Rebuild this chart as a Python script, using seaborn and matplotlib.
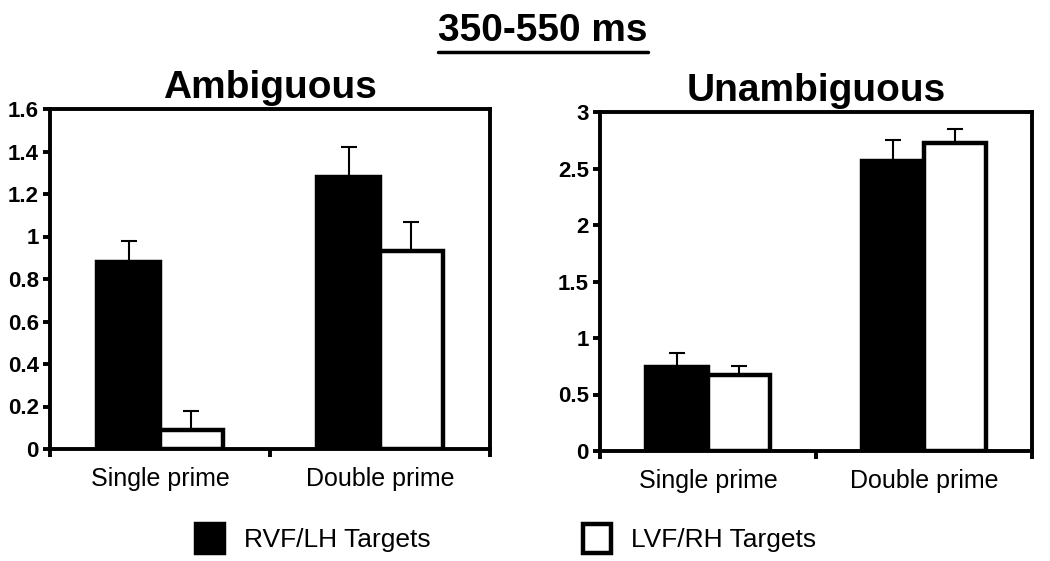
import pandas as pd
import matplotlib.pyplot as plt
import seaborn as sns
from matplotlib.lines import Line2D

sns.set_style('ticks')
plt.rcParams['font.family'] = ['Liberation Sans', 'DejaVu Sans']
plt.rcParams.update({'text.color': 'black', 'axes.edgecolor': 'black',
                     'xtick.color': 'black', 'ytick.color': 'black'})

#Values
conditions = ['Single prime', 'Double prime']
targets = ['RVF/LH Targets', 'LVF/RH Targets']

amb_rvf = [0.88, 1.28]
amb_lvf = [0.09, 0.93]
amb_rvf_err = [0.10, 0.14]
amb_lvf_err = [0.09, 0.14]

unamb_rvf = [0.74, 2.57]
unamb_lvf = [0.67, 2.73]
unamb_rvf_err = [0.13, 0.18]
unamb_lvf_err = [0.08, 0.12]

amb_ticks = [0, 0.2, 0.4, 0.6, 0.8, 1.0, 1.2, 1.4, 1.6]
unamb_ticks = [0, 0.5, 1.0, 1.5, 2.0, 2.5, 3.0]


def make_df(rvf, lvf):
    return pd.DataFrame({
        'condition': conditions * 2,
        'target': [targets[0]] * 2 + [targets[1]] * 2,
        'value': rvf + lvf,
    })


def draw_panel(ax, df, errs, title, ticks):
    sns.barplot(data=df, x='condition', y='value', hue='target', order=conditions,
                hue_order=targets, palette=['black', 'white'], edgecolor='black',
                linewidth=3.2, width=0.57, errorbar=None, ax=ax)
    #error bars (upper only) on each bar centre
    for patch, err in zip(ax.patches, errs):
        xc = patch.get_x() + patch.get_width() / 2
        top = patch.get_height()
        ax.errorbar(xc, top, yerr=[[0], [err]], fmt='none', ecolor='black',
                    elinewidth=1.5, capsize=6, capthick=1.5, zorder=1)
    ax.set_ylim(0, ticks[-1])
    ax.set_xlim(-0.5, 1.5)
    ax.set_yticks(ticks)
    ax.set_yticklabels([f'{t:g}' for t in ticks], fontsize=16, fontweight='bold')
    ax.set_xticks([0, 1])
    ax.set_xticklabels(conditions, fontsize=18)
    ax.set_xticks([-0.5, 0.5, 1.5], minor=True)
    ax.tick_params(axis='x', which='major', length=0, pad=13)
    ax.tick_params(axis='x', which='minor', length=6, width=2.8, direction='out')
    ax.tick_params(axis='y', length=5, width=2.8, direction='out', pad=3)
    ax.set_xlabel('')
    ax.set_ylabel('')
    for s in ax.spines.values():
        s.set_linewidth(2.8)
        s.set_visible(True)
    ax.set_title(title, fontsize=28, fontweight='bold', pad=8)


fig = plt.figure(figsize=(10.5, 5.61), dpi=100)
ax1 = fig.add_axes([50 / 1050, 1 - 449 / 561, 440 / 1050, 340 / 561])
ax2 = fig.add_axes([600 / 1050, 1 - 451 / 561, 432 / 1050, 339 / 561])

draw_panel(ax1, make_df(amb_rvf, amb_lvf), amb_rvf_err + amb_lvf_err, 'Ambiguous', amb_ticks)
draw_panel(ax2, make_df(unamb_rvf, unamb_lvf), unamb_rvf_err + unamb_lvf_err, 'Unambiguous', unamb_ticks)

handles, labels = ax1.get_legend_handles_labels()
ax1.get_legend().remove()
ax2.get_legend().remove()
fig.legend(handles, labels, loc='center', bbox_to_anchor=(0.482, 0.04), ncol=2,
           frameon=False, fontsize=19, handlelength=1.05, handleheight=1.35,
           columnspacing=5.8, handletextpad=0.75)

#underlined main title
t = fig.text(0.517, 0.945, '350-550 ms', ha='center', va='center', fontsize=28, fontweight='bold')
fig.canvas.draw()
bb = t.get_window_extent().transformed(fig.transFigure.inverted())
fig.add_artist(Line2D([bb.x0, bb.x1], [bb.y0 - 0.006, bb.y0 - 0.006], color='black', linewidth=2.5,
                      transform=fig.transFigure))

plt.savefig('out.png', dpi=100)
